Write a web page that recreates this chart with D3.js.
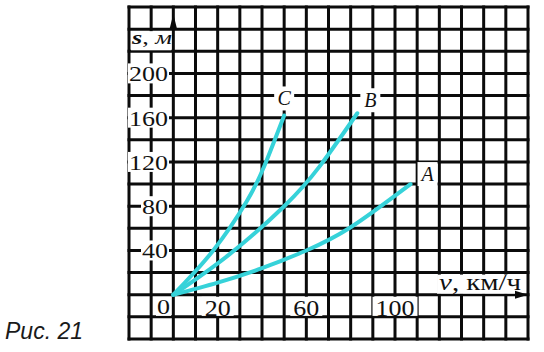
<!DOCTYPE html>
<html lang="ru">
<head>
  <meta charset="UTF-8">
  <title>Рис. 21</title>
  <script src="https://d3js.org/d3.v7.min.js"></script>
  <style>
    body { margin: 0; background: #fff; }
    svg { display: block; }
  </style>
</head>
<body>
  <svg id="chart" width="544" height="352"></svg>
  <script>
    // speed (km/h) vs distance (m)
    const curveA = [[0, 0], [20, 11], [40, 24], [60, 40], [80, 61], [107, 100]];
    const curveB = [[0, 0], [25, 36], [50, 80], [66, 116], [83, 164]];
    const curveC = [[0, 0], [18, 40], [33, 84], [41, 116], [50, 162]];
    const curveNames = ["A", "B", "C"];

    const xTickLabels = [20, 60, 100];
    const yTickLabels = [40, 80, 120, 160, 200];

    const svg = d3.select("#chart");

    // grid: 18 cells across (10 km/h each), 15 rows (20 m each)
    const x = d3.scaleLinear().domain([-20, 160]).range([129, 528]);
    const y = d3.scaleLinear().domain([-40, 260]).range([339, 7]);
    const cell = x(10) - x(0);

    const grid = svg.append("g").attr("stroke", "#0b0b0b").attr("stroke-width", 3);
    grid.selectAll("line.v").data(d3.range(-20, 161, 10)).enter().append("line")
      .attr("class", "v")
      .attr("x1", d => x(d)).attr("x2", d => x(d))
      .attr("y1", y(260) - 1.5).attr("y2", y(-40) + 1.5);
    grid.selectAll("line.h").data(d3.range(-40, 261, 20)).enter().append("line")
      .attr("class", "h")
      .attr("y1", d => y(d)).attr("y2", d => y(d))
      .attr("x1", x(-20) - 1.5).attr("x2", x(160) + 1.5);

    const serif = "'Liberation Serif', 'DejaVu Serif', serif";

    // boxed label helper: white rect covering grid, then text
    function boxed(rx, ry, rw, rh, cb) {
      svg.append("rect").attr("x", rx).attr("y", ry).attr("width", rw).attr("height", rh).attr("fill", "#fff");
      cb(svg.append("text").attr("font-family", serif).attr("fill", "#111"));
    }

    // y tick labels
    yTickLabels.forEach(v => {
      const w = String(v).length * 13;
      boxed(168 - w - 1, y(v) - 10, w + 2, 20, t => t
        .attr("x", 168).attr("y", y(v) + 8)
        .attr("text-anchor", "end").attr("font-size", 22)
        .attr("textLength", w).attr("lengthAdjust", "spacingAndGlyphs")
        .text(v));
    });

    // x tick labels
    boxed(156, y(0) + 3, 15, cell - 4, t => t
      .attr("x", 163.5).attr("y", y(0) + 19)
      .attr("text-anchor", "middle").attr("font-size", 22)
      .attr("textLength", 13).attr("lengthAdjust", "spacingAndGlyphs")
      .text("0"));
    xTickLabels.forEach(v => {
      const w = String(v).length * 13;
      boxed(x(v) - w / 2 - 3, y(0) + 2, w + 6, cell - 3, t => t
        .attr("x", x(v)).attr("y", y(0) + 21)
        .attr("text-anchor", "middle").attr("font-size", 23)
        .attr("textLength", w).attr("lengthAdjust", "spacingAndGlyphs")
        .text(v));
    });

    // axis titles
    boxed(x(-20) + 2, y(240) + 2, x(0) - x(-20) - 4, cell - 3, t => {
      t.attr("x", 132).attr("y", y(240) + 15).attr("font-size", 18)
        .attr("textLength", 40).attr("lengthAdjust", "spacingAndGlyphs");
      t.append("tspan").attr("font-style", "italic").attr("font-weight", "bold").text("s");
      t.append("tspan").text(", ");
      t.append("tspan").attr("font-style", "italic").text("м");
    });
    boxed(x(119) , y(20) + 2, x(157) - x(119), cell - 3, t => {
      t.attr("x", x(119) + 2).attr("y", y(0) - 5).attr("font-size", 24)
        .attr("textLength", 82).attr("lengthAdjust", "spacingAndGlyphs");
      t.append("tspan").attr("font-style", "italic").text("v");
      t.append("tspan").text(", км/ч");
    });

    // curves
    const line = d3.line().x(d => x(d[0])).y(d => y(d[1])).curve(d3.curveNatural);
    const curves = [curveA, curveB, curveC];
    svg.append("g").selectAll("path").data(curves).enter().append("path")
      .attr("d", line)
      .attr("fill", "none")
      .attr("stroke", "#36d2d9")
      .attr("stroke-width", 4)
      .attr("stroke-linecap", "round");

    // curve letters near the ends
    const offsets = [[17, -10], [13, -13], [0, -17]];
    curves.forEach((c, i) => {
      const end = c[c.length - 1];
      const cx = x(end[0]) + offsets[i][0];
      const cy = y(end[1]) + offsets[i][1];
      boxed(cx - 10, cy - 12, 20, 24, t => t
        .attr("x", cx).attr("y", cy + 7)
        .attr("text-anchor", "middle").attr("font-size", 20)
        .attr("font-style", "italic")
        .text(curveNames[i]));
    });

    // axis arrows
    svg.append("path")
      .attr("d", `M${x(0)},${y(260) + 7} L${x(0) - 3.5},${y(260) + 21} L${x(0) + 3.5},${y(260) + 21} Z`)
      .attr("fill", "#0b0b0b");
    svg.append("path")
      .attr("d", `M${x(160)},${y(0)} L${x(160) - 13},${y(0) - 4} L${x(160) - 13},${y(0) + 4} Z`)
      .attr("fill", "#0b0b0b");

    // figure caption
    svg.append("text")
      .attr("x", 5).attr("y", 339)
      .attr("font-family", "'Liberation Sans', Arial, sans-serif")
      .attr("font-style", "italic")
      .attr("font-size", 23)
      .attr("fill", "#1a1a1a")
      .text("Рис. 21");
  </script>
</body>
</html>
